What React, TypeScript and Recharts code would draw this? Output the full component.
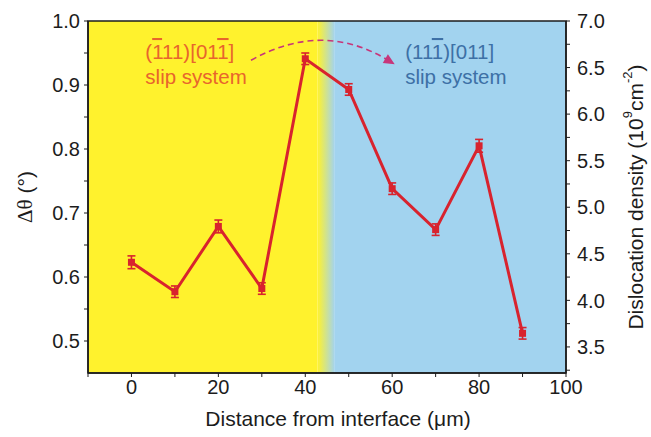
import React from 'react';
import {
  LineChart,
  Line,
  XAxis,
  YAxis,
  ErrorBar,
  ReferenceArea,
  ReferenceDot,
  Label,
} from 'recharts';

const distances = [0, 10, 20, 30, 40, 50, 60, 70, 80, 90];
const deltaTheta = [0.623, 0.577, 0.679, 0.582, 0.941, 0.893, 0.738, 0.674, 0.805, 0.512];
const errors = [0.01, 0.009, 0.01, 0.009, 0.009, 0.009, 0.009, 0.009, 0.01, 0.009];

const xTicks = [-10, 0, 10, 20, 30, 40, 50, 60, 70, 80, 90, 100];
const leftTicks = [0.5, 0.55, 0.6, 0.65, 0.7, 0.75, 0.8, 0.85, 0.9, 0.95, 1.0];
const rightTicks = [3.25, 3.5, 3.75, 4.0, 4.25, 4.5, 4.75, 5.0, 5.25, 5.5, 5.75, 6.0, 6.25, 6.5, 6.75, 7.0];

const RED = '#d8232e';
const YELLOW = '#fff22d';
const BLUE = '#a2d3ef';
const ORANGE = '#e8652c';
const SLATE = '#3d70a6';
const MAGENTA = '#c7367a';
const INK = '#1c1c1c';
const FONT = '"Liberation Sans", Arial, sans-serif';

const data = distances.map((d, i) => ({ d, theta: deltaTheta[i], err: errors[i] }));

const isMajor = (v: number, step: number) => Math.abs(v / step - Math.round(v / step)) < 1e-6;

const XTick = ({ x, y, payload }: any) =>
  isMajor(payload.value, 20) ? (
    <text x={x} y={y} dy="0.75em" textAnchor="middle" fontSize={20} fill={INK} fontFamily={FONT}>
      {payload.value}
    </text>
  ) : null;

const LeftTick = ({ x, y, payload }: any) =>
  isMajor(payload.value, 0.1) ? (
    <text x={x} y={y} dy="0.36em" textAnchor="end" fontSize={20} fill={INK} fontFamily={FONT}>
      {payload.value.toFixed(1)}
    </text>
  ) : null;

const RightTick = ({ x, y, payload }: any) =>
  isMajor(payload.value, 0.5) ? (
    <text x={x} y={y} dy="0.36em" textAnchor="start" fontSize={20} fill={INK} fontFamily={FONT}>
      {payload.value.toFixed(1)}
    </text>
  ) : null;

const SquareDot = ({ cx, cy, index }: any) => (
  <rect key={index} x={cx - 3.5} y={cy - 3.5} width={7} height={7} fill={RED} />
);

// dashed curved arrow drawn inside the reference area box
const CurvedArrow = ({ x, y, width, height }: any) => {
  const sx = x;
  const sy = y + height - 3;
  const ex = x + width;
  const ey = y + height;
  const peak = y + 1;
  const cx = x + width / 2;
  const cy = 2 * peak - (sy + ey) / 2;
  const dx = ex - cx;
  const dy = ey - cy;
  const len = Math.sqrt(dx * dx + dy * dy);
  const ux = dx / len;
  const uy = dy / len;
  const tipX = ex + ux * 2;
  const tipY = ey + uy * 2;
  const bx = tipX - ux * 11;
  const by = tipY - uy * 11;
  return (
    <g>
      <path
        d={`M${sx},${sy} Q${cx},${cy} ${bx + ux * 2},${by + uy * 2}`}
        fill="none"
        stroke={MAGENTA}
        strokeWidth={1.6}
        strokeDasharray="6 4"
      />
      <polygon
        points={`${tipX},${tipY} ${bx - uy * 5},${by + ux * 5} ${bx + uy * 5},${by - ux * 5}`}
        fill={MAGENTA}
      />
    </g>
  );
};

const SlipLabel = (color: string, first: React.ReactNode) => ({ cx, cy }: any) => (
  <g fontFamily={FONT} fontSize={20.5} fill={color}>
    <text x={cx} y={cy}>{first}</text>
    <text x={cx} y={cy + 25}>slip system</text>
  </g>
);

const bar = { textDecoration: 'overline' } as React.CSSProperties;

export default function App() {
  return (
    <div style={{ position: 'absolute', left: 0, top: 0, background: '#fff' }}>
      <LineChart
        width={651}
        height={437}
        data={data}
        margin={{ top: 21, right: 0, bottom: 0, left: 0 }}
      >
        <defs>
          <linearGradient id="fadeBg" x1="0" y1="0" x2="1" y2="0">
            <stop offset="0%" stopColor={YELLOW} />
            <stop offset="100%" stopColor={BLUE} />
          </linearGradient>
        </defs>
        <XAxis
          dataKey="d"
          type="number"
          domain={[-10, 100]}
          ticks={xTicks}
          tick={<XTick />}
          tickSize={4}
          tickMargin={2}
          height={64}
          axisLine={{ stroke: INK, strokeWidth: 1.5 }}
          tickLine={{ stroke: INK }}
          interval={0}
        >
          <Label
            content={({ viewBox }: any) => (
              <text
                x={viewBox.x + viewBox.width / 2 + 11}
                y={viewBox.y + 53}
                textAnchor="middle"
                fontSize={21}
                fill={INK}
                fontFamily={FONT}
              >
                Distance from interface (μm)
              </text>
            )}
          />
        </XAxis>
        <YAxis
          yAxisId="left"
          type="number"
          domain={[0.45, 1.0]}
          ticks={leftTicks}
          tick={<LeftTick />}
          tickSize={4}
          tickMargin={4}
          width={88}
          axisLine={{ stroke: INK, strokeWidth: 1.5 }}
          tickLine={{ stroke: INK }}
          interval={0}
        >
          <Label
            content={({ viewBox }: any) => {
              const cx = viewBox.x + 25;
              const cy = viewBox.y + viewBox.height / 2;
              return (
                <text
                  x={cx}
                  y={cy}
                  transform={`rotate(-90 ${cx} ${cy})`}
                  textAnchor="middle"
                  dominantBaseline="central"
                  fontSize={21}
                  fill={INK}
                  fontFamily={FONT}
                >
                  <tspan fontFamily='"Liberation Serif", serif'>Δθ</tspan>
                  <tspan> (°)</tspan>
                </text>
              );
            }}
          />
        </YAxis>
        <YAxis
          yAxisId="right"
          orientation="right"
          type="number"
          domain={[3.22, 7.0]}
          ticks={rightTicks}
          tick={<RightTick />}
          tickSize={4}
          tickMargin={7}
          width={85}
          axisLine={{ stroke: INK, strokeWidth: 1.5 }}
          tickLine={{ stroke: INK }}
          interval={0}
          allowDataOverflow
        >
          <Label
            content={({ viewBox }: any) => {
              const cx = viewBox.x + 69;
              const cy = viewBox.y + viewBox.height / 2;
              return (
                <text
                  x={cx}
                  y={cy}
                  transform={`rotate(-90 ${cx} ${cy})`}
                  textAnchor="middle"
                  dominantBaseline="central"
                  fontSize={21}
                  fill={INK}
                  fontFamily={FONT}
                >
                  <tspan>Dislocation density (10</tspan>
                  <tspan dy={-8} fontSize={13}>9</tspan>
                  <tspan dy={8}>cm</tspan>
                  <tspan dy={-8} fontSize={13}>-2</tspan>
                  <tspan dy={8}>)</tspan>
                </text>
              );
            }}
          />
        </YAxis>

        <ReferenceArea yAxisId="left" x1={-10} x2={42.8} y1={0.45} y2={1.0} fill={YELLOW} fillOpacity={1} />
        <ReferenceArea yAxisId="left" x1={42.8} x2={46.8} y1={0.45} y2={1.0} fill="url(#fadeBg)" fillOpacity={1} />
        <ReferenceArea yAxisId="left" x1={46.8} x2={100} y1={0.45} y2={1.0} fill={BLUE} fillOpacity={1} />
        <ReferenceArea
          yAxisId="left"
          x1={-10}
          x2={100}
          y1={0.45}
          y2={1.0}
          fill="none"
          stroke={INK}
          strokeWidth={1.5}
        />
        <ReferenceArea yAxisId="left" x1={27.5} x2={60.2} y1={0.934} y2={0.97} shape={<CurvedArrow />} />
        <ReferenceDot
          yAxisId="left"
          x={3.2}
          y={0.9406}
          r={0}
          shape={SlipLabel(
            ORANGE,
            <>
              (<tspan style={bar}>1</tspan>11)[01<tspan style={bar}>1</tspan>]
            </>
          )}
        />
        <ReferenceDot
          yAxisId="left"
          x={63}
          y={0.9406}
          r={0}
          shape={SlipLabel(
            SLATE,
            <>
              (11<tspan style={bar}>1</tspan>)[011]
            </>
          )}
        />

        <Line
          yAxisId="left"
          dataKey="theta"
          stroke={RED}
          strokeWidth={3}
          dot={<SquareDot />}
          activeDot={false}
          isAnimationActive={false}
        >
          <ErrorBar dataKey="err" direction="y" width={4} stroke={RED} strokeWidth={1.6} />
        </Line>
      </LineChart>
    </div>
  );
}
